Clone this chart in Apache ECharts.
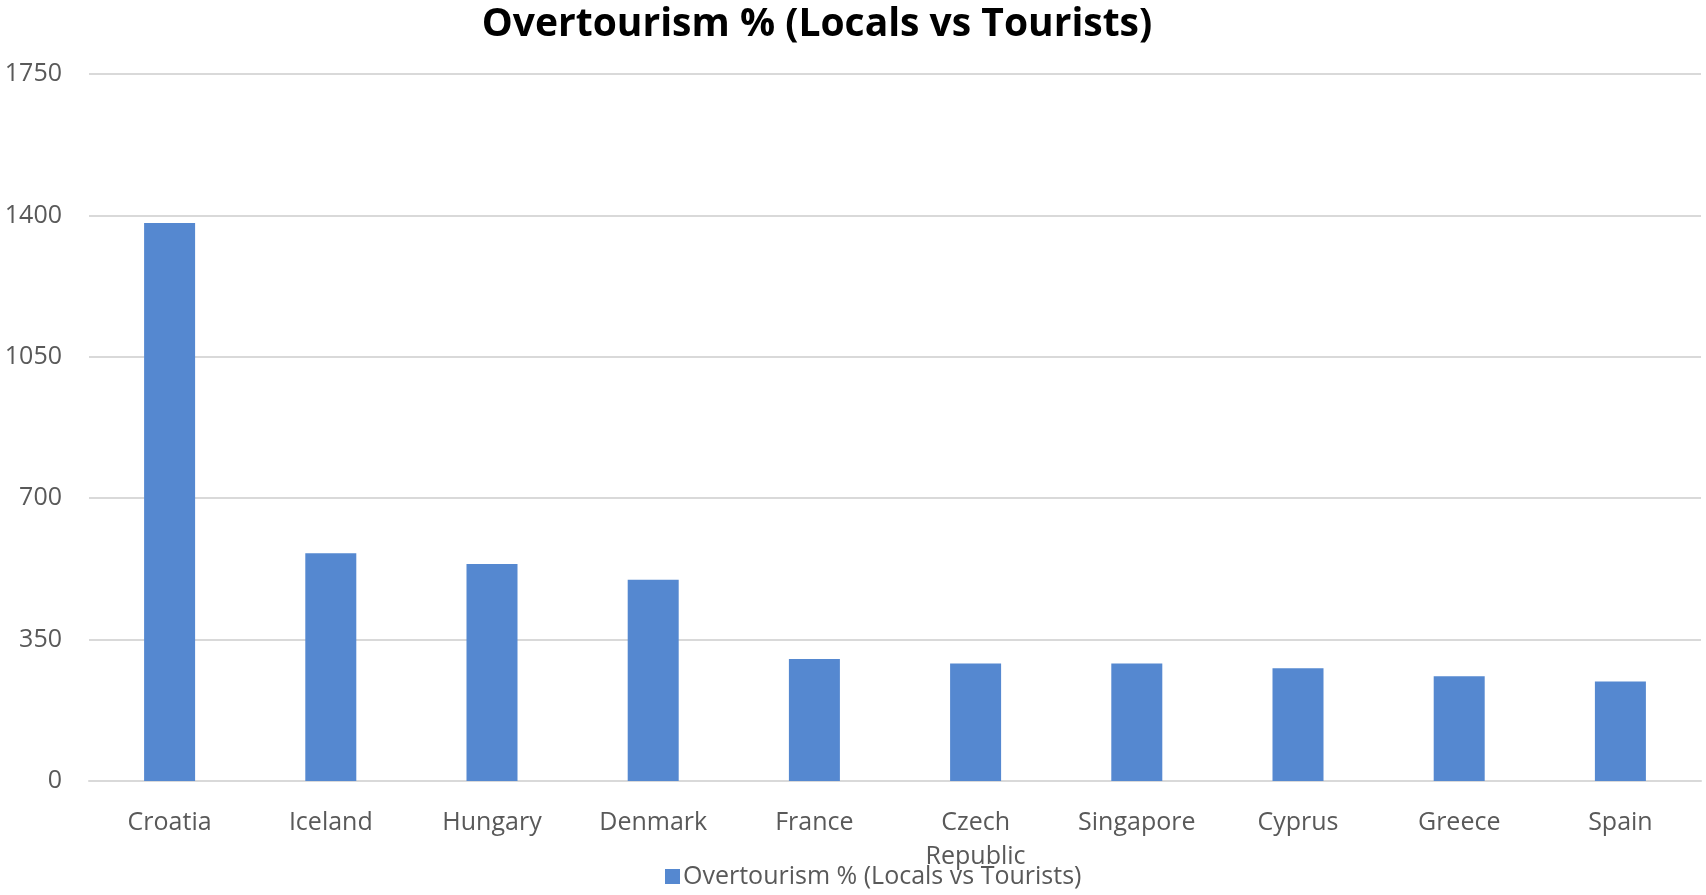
<!DOCTYPE html>
<html>
<head>
<meta charset="utf-8">
<title>Overtourism % (Locals vs Tourists)</title>
<script src="https://cdn.jsdelivr.net/npm/echarts@6/dist/echarts.min.js"></script>
<style>
  html, body { margin: 0; padding: 0; background: #fff; }
  #chart { width: 1706px; height: 895px; }
</style>
</head>
<body>
<div id="chart"></div>
<script>
  // data
  var countries = ['Croatia', 'Iceland', 'Hungary', 'Denmark', 'France',
                   'Czech Republic', 'Singapore', 'Cyprus', 'Greece', 'Spain'];
  var overtourism = [1381, 564, 537, 498, 302, 291, 291, 279, 259, 246];
  var seriesName = 'Overtourism % (Locals vs Tourists)';
  var yTicks = { min: 0, max: 1750, step: 350 };

  var labelColor = '#595959';
  var gridColor = '#d9d9d9';
  var font = '"Open Sans", sans-serif';

  var chart = echarts.init(document.getElementById('chart'));

  chart.setOption({
    animation: false,
    textStyle: { fontFamily: font },
    title: {
      text: seriesName,
      left: 812,
      textAlign: 'center',
      top: 0,
      textStyle: { fontFamily: font, fontWeight: 'bold', fontSize: 39, color: '#000' }
    },
    legend: {
      data: [seriesName],
      bottom: 1,
      left: 660,
      icon: 'rect',
      itemWidth: 15,
      itemHeight: 15,
      itemGap: 6,
      textStyle: { fontSize: 25, color: labelColor, fontFamily: font, padding: [0, 0, 0, -2] }
    },
    grid: { left: 89, right: 5, top: 74, bottom: 114, containLabel: false },
    xAxis: {
      type: 'category',
      data: countries,
      axisLine: { lineStyle: { color: gridColor, width: 2 } },
      axisTick: { show: false },
      axisLabel: {
        color: labelColor,
        fontSize: 25,
        margin: 25,
        lineHeight: 34,
        interval: 0,
        formatter: function (v) { return v.replace(' ', '\n'); }
      }
    },
    yAxis: {
      type: 'value',
      min: yTicks.min,
      max: yTicks.max,
      interval: yTicks.step,
      axisLine: { show: false },
      axisTick: { show: false },
      axisLabel: {
        color: labelColor,
        fontSize: 25,
        margin: 27,
        padding: [6, 0, 0, 0],
        formatter: function (v) { return String(v); }
      },
      splitLine: { lineStyle: { color: gridColor, width: 2 } }
    },
    series: [{
      name: seriesName,
      type: 'bar',
      data: overtourism,
      barWidth: 51,
      itemStyle: { color: '#5588d0' }
    }]
  });
</script>
</body>
</html>
